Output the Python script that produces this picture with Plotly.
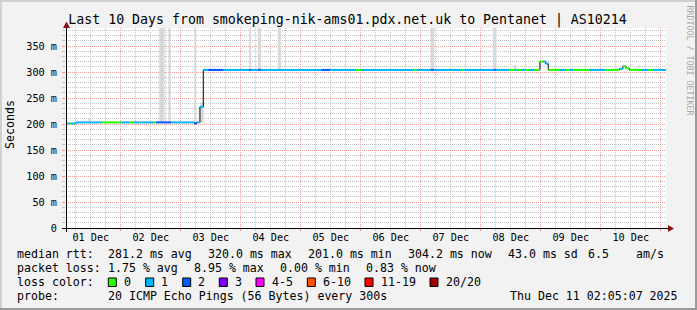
import plotly.graph_objects as go
import pandas as pd

# ---------------- data ----------------
t_start = "2025-12-01 02:05:07"
t_end = "2025-12-11 02:05:07"

# median rtt runs: start time, median rtt (ms), loss bucket (0 / 1 / 2 lost of 20)
run_start = [
    "2025-12-01 02:05", "2025-12-01 03:30", "2025-12-01 04:05", "2025-12-01 06:05",
    "2025-12-01 16:20", "2025-12-02 00:00", "2025-12-02 03:25", "2025-12-02 05:00",
    "2025-12-02 13:15", "2025-12-02 14:05", "2025-12-02 20:05", "2025-12-03 05:25",
    "2025-12-03 06:20", "2025-12-03 07:40", "2025-12-03 09:00", "2025-12-03 10:50",
    "2025-12-03 16:55", "2025-12-04 03:25", "2025-12-04 04:00", "2025-12-04 06:55",
    "2025-12-04 08:00", "2025-12-05 08:20", "2025-12-05 11:40", "2025-12-05 22:05",
    "2025-12-06 00:20", "2025-12-06 21:15", "2025-12-06 22:20", "2025-12-07 04:00",
    "2025-12-07 05:15", "2025-12-07 16:20", "2025-12-07 17:15", "2025-12-08 05:15",
    "2025-12-08 06:05", "2025-12-08 11:25", "2025-12-08 13:40", "2025-12-08 14:35",
    "2025-12-08 16:20", "2025-12-08 17:40", "2025-12-08 19:25", "2025-12-08 21:15",
    "2025-12-08 23:40", "2025-12-09 01:00", "2025-12-09 02:00", "2025-12-09 03:00",
    "2025-12-09 07:40", "2025-12-09 10:05", "2025-12-09 11:40", "2025-12-09 13:00",
    "2025-12-09 19:40", "2025-12-10 01:40", "2025-12-10 07:25", "2025-12-10 08:50",
    "2025-12-10 10:05", "2025-12-10 11:25", "2025-12-10 16:25", "2025-12-10 19:00",
    "2025-12-10 20:55",
]
run_rtt = [
    201, 201, 201, 203, 203, 203, 203, 203, 203, 203, 203, 201,
    203, 233, 304, 304, 304, 304, 304, 304, 304, 304, 304, 304,
    304, 304, 304, 304, 304, 304, 304, 304, 304, 304, 304, 304,
    304, 304, 304, 304, 320, 320, 316, 304, 304, 304, 304, 304,
    304, 304, 306, 311, 307, 304, 304, 304, 304,
]
run_loss = [
    1, 0, 1, 1, 0, 1, 0, 1, 0, 2, 1, 2,
    1, 1, 1, 2, 1, 2, 1, 2, 1, 2, 1, 0,
    1, 0, 1, 2, 1, 0, 1, 2, 1, 0, 1, 0,
    1, 0, 1, 0, 0, 1, 1, 0, 1, 0, 1, 0,
    1, 0, 1, 0, 0, 0, 1, 0, 1,
]

# smoke (spread of the pings): start, end, low, high (ms)
smoke_start = ["2025-12-01 11:10", "2025-12-02 15:25", "2025-12-02 19:10", "2025-12-03 05:25",
               "2025-12-03 07:50", "2025-12-04 03:25", "2025-12-04 06:55", "2025-12-04 14:55",
               "2025-12-07 04:00", "2025-12-08 05:00", "2025-12-08 13:15"]
smoke_end = ["2025-12-01 12:00", "2025-12-02 17:20", "2025-12-02 19:50", "2025-12-03 06:05",
             "2025-12-03 09:05", "2025-12-04 04:00", "2025-12-04 08:00", "2025-12-04 16:00",
             "2025-12-07 05:15", "2025-12-08 06:10", "2025-12-08 14:05"]
smoke_low = [203, 203, 203, 201, 203, 304, 304, 304, 304, 304, 304]
smoke_high = [210, 400, 400, 400, 241, 400, 400, 400, 400, 400, 313]

y_tickvals = [0, 50, 100, 150, 200, 250, 300, 350]
y_ticktext = ["0", "50 m", "100 m", "150 m", "200 m", "250 m", "300 m", "350 m"]

loss_labels = ["0", "1", "2", "3", "4-5", "6-10", "11-19", "20/20"]
loss_colors = ["#26ff00", "#00b8ff", "#0059ff", "#7e00ff", "#ff00ff", "#ff5500", "#ff0000", "#a10000"]

rtt_stats = ["281.2 ms avg", "320.0 ms max", "201.0 ms min", "304.2 ms now", "43.0 ms sd", "6.5", "am/s"]
loss_stats = ["1.75 % avg", "8.95 % max", "0.00 % min", "0.83 % now"]
probe_text = "20 ICMP Echo Pings (56 Bytes) every 300s"
stamp_text = "Thu Dec 11 02:05:07 2025"
title_text = "Last 10 Days from smokeping-nik-ams01.pdx.net.uk to Pentanet | AS10214"

# ---------------- layout helpers ----------------
W, H = 697, 310
L, R, T, B = 66, 666, 28, 228  # plot box in pixels


def px(x):
    return (x - L) / (R - L)


def py(y):
    return (B - y) / (B - T)


MONO = "DejaVu Sans Mono"
fig = go.Figure()

# smoke as filled rectangles, one trace each
for a, b, lo, hi in zip(smoke_start, smoke_end, smoke_low, smoke_high):
    fig.add_trace(go.Scatter(x=[a, b, b, a, a], y=[lo, lo, hi, hi, lo], mode="lines", fill="toself",
                             fillcolor="#d8d8d8", line=dict(width=0.5, color="#d8d8d8"),
                             hoverinfo="skip", showlegend=False))

# black step line (shows the vertical transitions)
xs = list(pd.to_datetime(run_start)) + [pd.to_datetime(t_end)]
ys = run_rtt + [run_rtt[-1]]
fig.add_trace(go.Scatter(x=xs, y=ys, mode="lines", line=dict(color="black", width=1, shape="hv"),
                         hoverinfo="skip", showlegend=False))

# coloured median segments per loss bucket
for lv in sorted(set(run_loss)):
    sx, sy = [], []
    for i, (ls, v) in enumerate(zip(run_loss, run_rtt)):
        if ls != lv:
            continue
        sx += [xs[i], xs[i + 1], None]
        sy += [v, v, None]
    fig.add_trace(go.Scatter(x=sx, y=sy, mode="lines", line=dict(color=loss_colors[lv], width=2),
                             hoverinfo="skip", showlegend=False))

fig.update_layout(
    width=W, height=H, autosize=False,
    margin=dict(l=L, r=W - R, t=T, b=H - B, pad=0),
    paper_bgcolor="#f2f2f2", plot_bgcolor="white",
    font=dict(family=MONO, size=10.2, color="black"),
    title=dict(text=title_text, x=347.5 / W, xref="container", xanchor="center",
               y=1 - 19 / H, yref="container", yanchor="middle",
               font=dict(family=MONO, size=13.25, color="black")),
    xaxis=dict(type="date", range=[t_start, t_end], tickmode="linear", tick0="2025-12-01",
               dtick=86400000, ticklabelmode="period", tickformat="%d %b",
               tickfont=dict(family=MONO, size=10.2), ticklabelstandoff=-2,
               showgrid=True, gridcolor="#f29a9a", griddash="1px,1px", gridwidth=1,
               ticks="outside", ticklen=2, tickcolor="#f29a9a",
               minor=dict(dtick=21600000, tick0="2025-12-01", showgrid=True, gridcolor="#c4c4c4",
                          griddash="1px,1px", ticks="outside", ticklen=2, tickcolor="#c4c4c4"),
               showline=False, zeroline=False, fixedrange=True),
    yaxis=dict(range=[0, 200 / 0.52], tickmode="array", tickvals=y_tickvals, ticktext=y_ticktext,
               tickfont=dict(family=MONO, size=10.2), ticklabelstandoff=3,
               showgrid=True, gridcolor="#f29a9a", griddash="1px,1px", gridwidth=1,
               ticks="outside", ticklen=3, tickcolor="#f29a9a",
               minor=dict(dtick=10, showgrid=True, gridcolor="#c4c4c4", griddash="1px,1px",
                          ticks="outside", ticklen=3, tickcolor="#c4c4c4"),
               showline=False, zeroline=False, fixedrange=True),
)

shapes = []
# axes + arrows
shapes.append(dict(type="line", xref="paper", yref="paper", x0=px(62), x1=px(669), y0=py(228.5), y1=py(228.5),
                   line=dict(color="black", width=1)))
shapes.append(dict(type="line", xref="paper", yref="paper", x0=px(66.5), x1=px(66.5), y0=py(232), y1=py(26),
                   line=dict(color="black", width=1)))
shapes.append(dict(type="path", xref="paper", yref="paper",
                   path=f"M {px(668)} {py(225)} L {px(674)} {py(228.5)} L {px(668)} {py(232)} Z",
                   fillcolor="#8b1010", line=dict(width=0)))
shapes.append(dict(type="path", xref="paper", yref="paper",
                   path=f"M {px(63)} {py(28)} L {px(66.5)} {py(21.5)} L {px(70)} {py(28)} Z",
                   fillcolor="#8b1010", line=dict(width=0)))
# frame shading
shapes.append(dict(type="rect", xref="paper", yref="paper", x0=px(0), x1=px(W), y0=py(0), y1=py(2),
                   fillcolor="#d0d0d0", line=dict(width=0)))
shapes.append(dict(type="rect", xref="paper", yref="paper", x0=px(0), x1=px(2), y0=py(0), y1=py(H),
                   fillcolor="#d0d0d0", line=dict(width=0)))
shapes.append(dict(type="rect", xref="paper", yref="paper", x0=px(W - 2), x1=px(W), y0=py(0), y1=py(H),
                   fillcolor="#9a9a9a", line=dict(width=0)))
shapes.append(dict(type="rect", xref="paper", yref="paper", x0=px(0), x1=px(W), y0=py(H - 2), y1=py(H),
                   fillcolor="#9a9a9a", line=dict(width=0)))

ann = []


def text(x, y, s, anchor="left", size=11.6, **kw):
    ann.append(dict(text=s, xref="paper", yref="paper", x=px(x), y=py(y), xanchor=anchor,
                    yanchor="middle", showarrow=False, font=dict(family=MONO, size=size,
                    color=kw.pop("color", "black")), **kw))


# y title
text(10, 125, "Seconds", anchor="center", textangle=-90)
# watermark
text(689.5, 60, "RRDTOOL / TOBI OETIKER", anchor="center", size=8.3, color="#a8a8a8", textangle=90)

# legend rows
rows = [254, 268, 282, 296]
text(14.5, rows[0], "median rtt:")
for xx, s in zip([106, 206, 306, 406, 505.5, 585.5, 634], rtt_stats):
    text(xx, rows[0], s)
text(14.5, rows[1], "packet loss:")
for xx, s in zip([106, 192, 278, 364], loss_stats):
    text(xx, rows[1], s)
text(14.5, rows[2], "loss color:")
box_x = [108.3, 145.7, 182.7, 219.3, 256, 307.3, 365, 430]
for bx, lab, col in zip(box_x, loss_labels, loss_colors):
    shapes.append(dict(type="rect", xref="paper", yref="paper", x0=px(bx), x1=px(bx + 8),
                       y0=py(278), y1=py(286.5), fillcolor=col, line=dict(color="black", width=1)))
    text(bx + 13.5, rows[2], lab)
text(14.5, rows[3], "probe:")
text(106, rows[3], probe_text)
text(680, rows[3], stamp_text, anchor="right")

fig.update_layout(shapes=shapes, annotations=ann)
fig.write_html("out.html")
